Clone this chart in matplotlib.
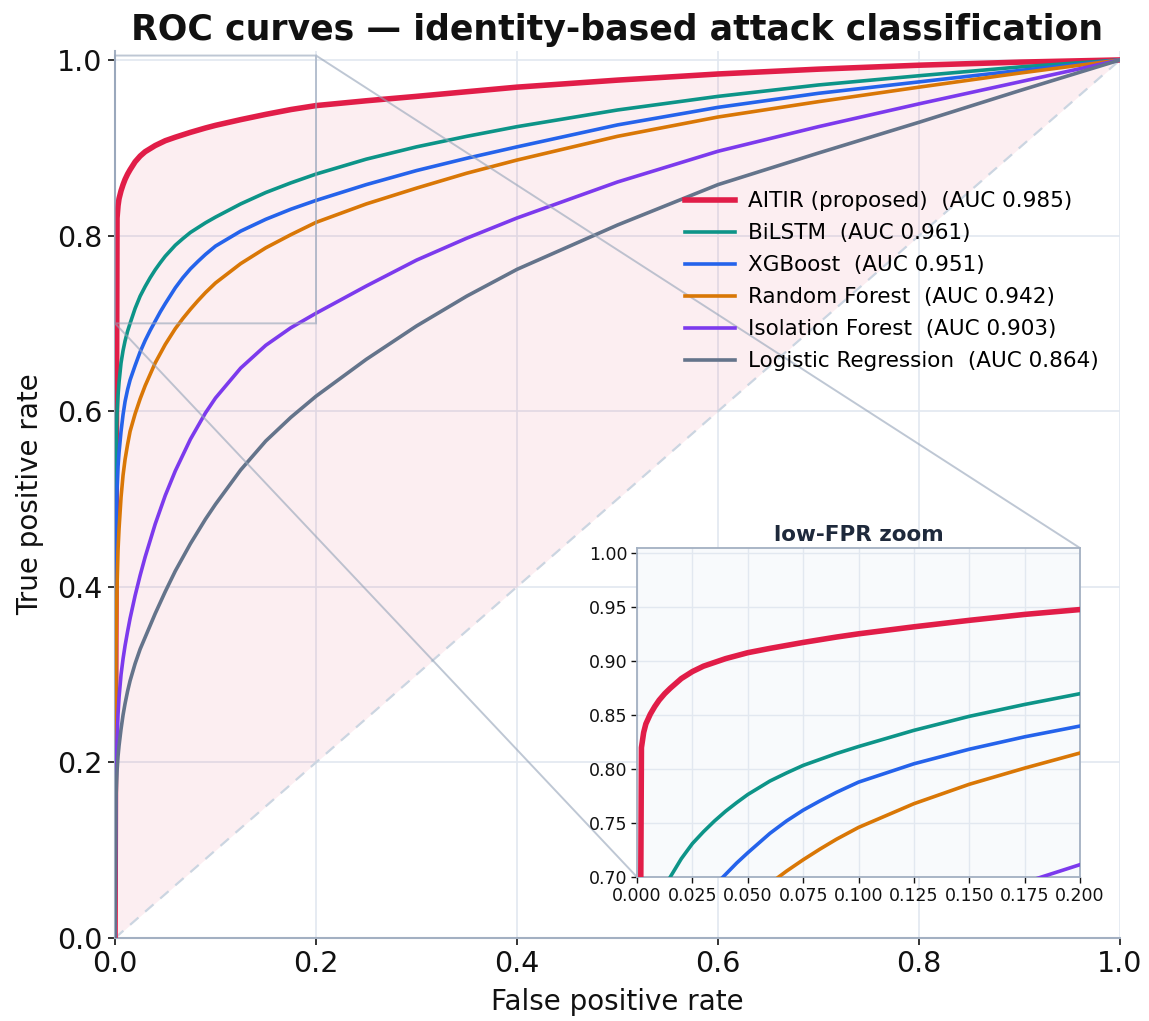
import matplotlib
matplotlib.use("Agg")
import matplotlib.pyplot as plt

plt.rcParams['font.family'] = ['DejaVu Sans']

# ---- data ----
labels = ["AITIR (proposed)  (AUC 0.985)", "BiLSTM  (AUC 0.961)", "XGBoost  (AUC 0.951)",
          "Random Forest  (AUC 0.942)", "Isolation Forest  (AUC 0.903)",
          "Logistic Regression  (AUC 0.864)"]
colors = ["#e11d48", "#0d9488", "#2563eb", "#d97706", "#7c3aed", "#64748b"]

aitir_fpr = [0, 0.002, 0.003, 0.004, 0.006, 0.008, 0.01, 0.0125, 0.015, 0.02, 0.025, 0.03,
             0.04, 0.05, 0.06, 0.075, 0.09, 0.1, 0.125, 0.15, 0.175, 0.2, 0.25, 0.3, 0.35,
             0.4, 0.5, 0.6, 0.7, 0.8, 0.9, 1.0]
aitir_tpr = [0, 0.820, 0.834, 0.842, 0.851, 0.858, 0.864, 0.870, 0.875, 0.884, 0.8905, 0.8955,
             0.9025, 0.908, 0.912, 0.9175, 0.9225, 0.9255, 0.932, 0.938, 0.9435, 0.948, 0.9535,
             0.9585, 0.9638, 0.969, 0.977, 0.984, 0.9895, 0.994, 0.9975, 1.0]

bilstm_fpr = [0, 0.0003, 0.001, 0.002, 0.003, 0.004, 0.006, 0.008, 0.01, 0.0125, 0.015, 0.02,
              0.025, 0.03, 0.035, 0.04, 0.045, 0.05, 0.06, 0.0675, 0.075, 0.0825, 0.09, 0.1,
              0.125, 0.15, 0.175, 0.2, 0.25, 0.3, 0.35, 0.4, 0.5, 0.6, 0.7, 0.8, 0.9, 1.0]
bilstm_tpr = [0, 0.45, 0.560, 0.598, 0.618, 0.633, 0.655, 0.669, 0.680, 0.691, 0.700, 0.717,
              0.731, 0.742, 0.752, 0.761, 0.769, 0.7765, 0.789, 0.7965, 0.8035, 0.809, 0.8145,
              0.821, 0.836, 0.849, 0.860, 0.870, 0.887, 0.901, 0.913, 0.924, 0.943, 0.9585,
              0.9715, 0.982, 0.992, 1.0]

xgb_fpr = [0, 0.001, 0.002, 0.003, 0.004, 0.006, 0.008, 0.01, 0.0125, 0.015, 0.02, 0.025,
           0.03, 0.035, 0.04, 0.045, 0.05, 0.06, 0.0675, 0.075, 0.0825, 0.09, 0.1, 0.125,
           0.15, 0.175, 0.2, 0.25, 0.3, 0.35, 0.4, 0.5, 0.6, 0.7, 0.8, 0.9, 1.0]
xgb_tpr = [0, 0.45, 0.51, 0.537, 0.553, 0.577, 0.596, 0.611, 0.6245, 0.6355, 0.652, 0.6675,
           0.6805, 0.692, 0.7025, 0.713, 0.7225, 0.7405, 0.752, 0.762, 0.7705, 0.7785, 0.788,
           0.805, 0.8185, 0.830, 0.840, 0.858, 0.874, 0.888, 0.901, 0.926, 0.946, 0.962,
           0.975, 0.988, 1.0]

rf_fpr = [0, 0.001, 0.002, 0.003, 0.004, 0.006, 0.008, 0.01, 0.0125, 0.015, 0.02, 0.025,
          0.03, 0.04, 0.05, 0.06, 0.0675, 0.075, 0.0825, 0.09, 0.1, 0.125, 0.15, 0.175, 0.2,
          0.25, 0.3, 0.35, 0.4, 0.5, 0.6, 0.7, 0.8, 0.9, 1.0]
rf_tpr = [0, 0.33, 0.40, 0.442, 0.466, 0.502, 0.527, 0.545, 0.562, 0.577, 0.597, 0.614,
          0.629, 0.655, 0.676, 0.694, 0.7055, 0.716, 0.7258, 0.735, 0.746, 0.768, 0.786,
          0.801, 0.815, 0.836, 0.854, 0.871, 0.886, 0.913, 0.935, 0.9525, 0.969, 0.985, 1.0]

iso_fpr = [0, 0.001, 0.002, 0.003, 0.004, 0.006, 0.008, 0.01, 0.0125, 0.015, 0.02, 0.025,
           0.03, 0.04, 0.05, 0.06, 0.075, 0.09, 0.1, 0.125, 0.15, 0.175, 0.2, 0.25, 0.3,
           0.35, 0.4, 0.5, 0.6, 0.7, 0.8, 0.9, 1.0]
iso_tpr = [0, 0.17, 0.225, 0.255, 0.274, 0.300, 0.318, 0.333, 0.349, 0.364, 0.390, 0.413,
           0.434, 0.4715, 0.504, 0.532, 0.568, 0.598, 0.615, 0.649, 0.675, 0.695, 0.7115,
           0.7425, 0.772, 0.797, 0.820, 0.861, 0.896, 0.924, 0.950, 0.975, 1.0]

lr_fpr = [0, 0.001, 0.002, 0.003, 0.004, 0.006, 0.008, 0.01, 0.0125, 0.015, 0.02, 0.025,
          0.03, 0.04, 0.05, 0.06, 0.075, 0.09, 0.1, 0.125, 0.15, 0.175, 0.2, 0.25, 0.3,
          0.35, 0.4, 0.5, 0.6, 0.7, 0.8, 0.9, 1.0]
lr_tpr = [0, 0.16, 0.19, 0.207, 0.219, 0.238, 0.254, 0.267, 0.281, 0.293, 0.3125, 0.329,
          0.3425, 0.3695, 0.3945, 0.418, 0.449, 0.477, 0.494, 0.533, 0.566, 0.593, 0.617,
          0.659, 0.697, 0.731, 0.7615, 0.812, 0.858, 0.894, 0.929, 0.965, 1.0]

curves = [(aitir_fpr, aitir_tpr), (bilstm_fpr, bilstm_tpr), (xgb_fpr, xgb_tpr),
          (rf_fpr, rf_tpr), (iso_fpr, iso_tpr), (lr_fpr, lr_tpr)]
widths = [4.0, 2.6, 2.6, 2.6, 2.6, 2.6]

main_ticks = [0.0, 0.2, 0.4, 0.6, 0.8, 1.0]
zoom_xticks = [0.000, 0.025, 0.050, 0.075, 0.100, 0.125, 0.150, 0.175, 0.200]
zoom_yticks = [0.70, 0.75, 0.80, 0.85, 0.90, 0.95, 1.00]

GRID = "#e2e8f0"
SPINE = "#a3b0c2"
TEXT = "#111111"

fig = plt.figure(figsize=(11.49, 10.21), dpi=100)
ax = fig.add_axes([0.1001, 0.0813, 0.8747, 0.8686])

ax.fill_between(aitir_fpr, aitir_tpr, aitir_fpr, color="#e11d48", alpha=0.075, lw=0, zorder=1)
ax.plot([0, 1], [0, 1], ls=(0, (5, 4)), color="#cbd5e1", lw=1.6, zorder=2)
for (fx, ty), c, lab, w in zip(curves, colors, labels, widths):
    ax.plot(fx, ty, color=c, lw=w, label=lab, zorder=3, solid_joinstyle="round")

ax.set_xlim(0, 1.0)
ax.set_ylim(0, 1.01)
ax.set_xticks(main_ticks)
ax.set_yticks(main_ticks)
ax.grid(True, color=GRID, lw=1.2, zorder=0)
ax.set_axisbelow(True)
for s in ["top", "right"]:
    ax.spines[s].set_visible(False)
for s in ["left", "bottom"]:
    ax.spines[s].set_color(SPINE)
    ax.spines[s].set_linewidth(1.5)
ax.tick_params(labelsize=20.5, colors=TEXT, length=5, width=1.2, pad=4)
ax.set_xlabel("False positive rate", fontsize=20, color=TEXT, labelpad=7)
ax.set_ylabel("True positive rate", fontsize=20, color=TEXT, labelpad=9)
ax.set_title("ROC curves — identity-based attack classification", fontsize=25,
             fontweight="bold", color=TEXT, pad=8)

leg = ax.legend(loc="upper left", bbox_to_anchor=(0.548, 0.864), frameon=False,
                fontsize=15.5, handlelength=2.3, labelspacing=0.56, handletextpad=0.6)

# ---- inset ----
axins = fig.add_axes([0.5544, 0.1410, 0.3856, 0.3222])
axins.set_facecolor("#f8fafc")
for (fx, ty), c, w in zip(curves, colors, widths):
    axins.plot(fx, ty, color=c, lw=w, zorder=3, solid_joinstyle="round")
axins.set_xlim(0, 0.2)
axins.set_ylim(0.70, 1.005)
axins.set_xticks(zoom_xticks)
axins.set_yticks(zoom_yticks)
axins.grid(True, color=GRID, lw=1.0, zorder=0)
axins.set_axisbelow(True)
for s in axins.spines.values():
    s.set_color(SPINE)
    s.set_linewidth(1.3)
axins.tick_params(labelsize=12.5, colors=TEXT, length=4, width=1.0, pad=3)
axins.set_title("low-FPR zoom", fontsize=15.5, fontweight="bold", color="#1e293b", pad=5)

ind = ax.indicate_inset_zoom(axins, edgecolor="#94a3b8", alpha=0.6, lw=1.4)

fig.savefig("out.png", dpi=100)
